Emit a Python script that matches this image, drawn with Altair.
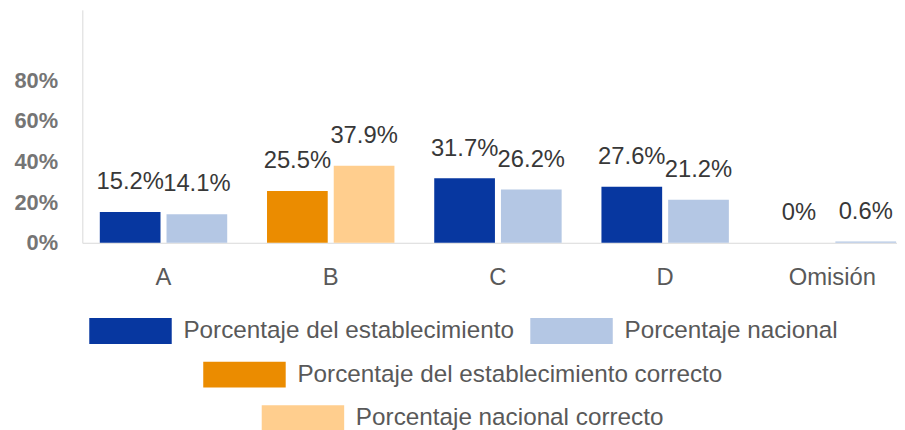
import altair as alt
import pandas as pd

categorias = ["A", "B", "C", "D", "Omisión"]
establecimiento = [15.2, 25.5, 31.7, 27.6, 0]
nacional = [14.1, 37.9, 26.2, 21.2, 0.6]
respuesta_correcta = "B"

S_EST = "Porcentaje del establecimiento"
S_NAC = "Porcentaje nacional"
S_EST_C = "Porcentaje del establecimiento correcto"
S_NAC_C = "Porcentaje nacional correcto"

C_EST = "#0737A0"
C_NAC = "#B4C7E4"
C_EST_C = "#EB8C00"
C_NAC_C = "#FFCE8E"

rows = []
for cat, ve, vn in zip(categorias, establecimiento, nacional):
    ok = cat == respuesta_correcta
    rows.append({"categoria": cat, "tipo": "est", "valor": ve,
                 "serie": S_EST_C if ok else S_EST})
    rows.append({"categoria": cat, "tipo": "nac", "valor": vn,
                 "serie": S_NAC_C if ok else S_NAC})
df = pd.DataFrame(rows)

FONT = "Liberation Sans"

x = alt.X("categoria:N", sort=categorias,
          scale=alt.Scale(paddingInner=0.238, paddingOuter=0.055, align=0.95),
          axis=alt.Axis(title=None, ticks=False, labelPadding=23, labelFontSize=24,
                        labelColor="#595959", labelFont=FONT, domainColor="#d9d9d9",
                        labelAngle=0))
y = alt.Y("valor:Q", scale=alt.Scale(domain=[0, 114.6], nice=False),
          axis=alt.Axis(values=[0, 20, 40, 60, 80], labelExpr="datum.value + '%'",
                        title=None, grid=False, ticks=False, labelPadding=25,
                        labelFontSize=22, labelFontWeight="bold", labelColor="#757575",
                        labelFont=FONT, domainColor="#d9d9d9"))
xo = alt.XOffset("tipo:N", sort=["est", "nac"],
                 scale=alt.Scale(domain=["est", "nac"], paddingInner=0.09))

PATH = "M-1,-1H5.4V1H-1Z"

def leg(lx, ly):
    return alt.Legend(orient="none", legendX=lx, legendY=ly, direction="horizontal",
                      title=None, symbolType=PATH, symbolSize=676, symbolStrokeWidth=0,
                      labelOffset=69, labelFontSize=24.5, labelColor="#595959",
                      labelFont=FONT, labelLimit=800, columnPadding=16, padding=0)

base = alt.Chart(df)

bars_azul = base.transform_filter(
    alt.FieldOneOfPredicate(field="serie", oneOf=[S_EST, S_NAC])
).mark_bar().encode(
    x=x, y=y, xOffset=xo,
    color=alt.Color("serie:N", scale=alt.Scale(domain=[S_EST, S_NAC], range=[C_EST, C_NAC]),
                    legend=leg(7, 311)),
)
bars_est_c = base.transform_filter(
    alt.FieldEqualPredicate(field="serie", equal=S_EST_C)
).mark_bar().encode(
    x=x, y=y, xOffset=xo,
    color=alt.Color("serie:N", scale=alt.Scale(domain=[S_EST_C], range=[C_EST_C]),
                    legend=leg(122, 355)),
)
bars_nac_c = base.transform_filter(
    alt.FieldEqualPredicate(field="serie", equal=S_NAC_C)
).mark_bar().encode(
    x=x, y=y, xOffset=xo,
    color=alt.Color("serie:N", scale=alt.Scale(domain=[S_NAC_C], range=[C_NAC_C]),
                    legend=leg(181, 399)),
)
labels = base.transform_calculate(
    etiqueta="datum.valor + '%'"
).mark_text(dy=-23, baseline="alphabetic", fontSize=24, color="#383838", font=FONT).encode(
    x=x, y=y, xOffset=xo, text="etiqueta:N"
)

chart = alt.layer(bars_azul, bars_est_c, bars_nac_c, labels).resolve_scale(
    color="independent"
).properties(
    width=822, height=235,
    padding={"left": 75, "top": 0, "right": 0, "bottom": 187},
    autosize=alt.AutoSizeParams(type="none"),
    background="white",
).configure_view(stroke=None)

chart.save("out.html", embed_options={"renderer": "svg", "actions": False})
